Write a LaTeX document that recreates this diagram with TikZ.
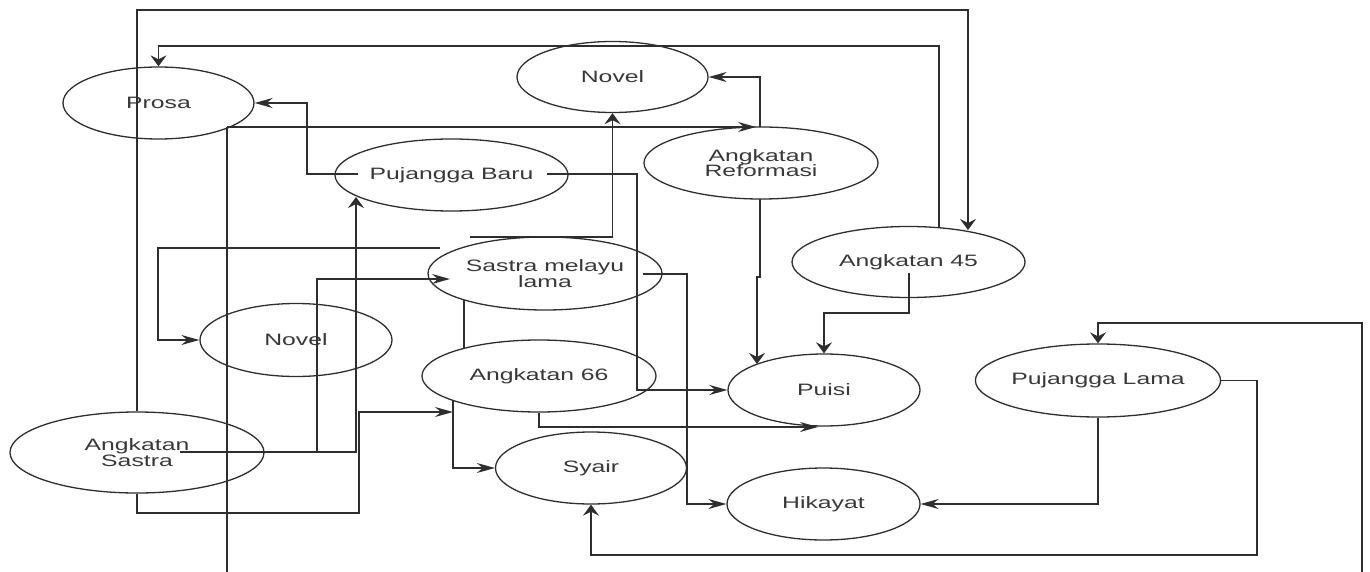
\documentclass[tikz,border=0pt]{standalone}
\usepackage{fontspec}
\setmainfont{Liberation Sans}
\usetikzlibrary{arrows.meta,shapes.geometric}
\definecolor{ln}{HTML}{2E2E2E}
\definecolor{tx}{HTML}{383838}
\newcommand\wl[1]{\scalebox{1.5}[1]{#1}}
\begin{document}
\begin{tikzpicture}[x=1pt,y=-1pt,
  el/.style={ellipse, draw=ln, line width=1.3pt, inner sep=0pt, text=tx,
    font=\fontsize{16.5}{15.5}\selectfont, align=center},
  ed/.style={draw=ln, line width=1.6pt},
  ha/.style={-{Stealth[length=18pt,width=10pt,inset=6pt]}},
  va/.style={-{Stealth[length=11pt,width=16pt,inset=4pt]}}]
\useasboundingbox (0,0) rectangle (1370,572);

\node[el, minimum width=191pt, minimum height=72pt] (prosa) at (158.5,103) {\wl{Prosa}};
\node[el, minimum width=191pt, minimum height=71pt] (novelA) at (612.5,77) {\wl{Novel}};
\node[el, minimum width=233pt, minimum height=72pt] (pbaru) at (451.5,175) {\wl{Pujangga Baru}};
\node[el, minimum width=234pt, minimum height=72pt] (reform) at (761,163) {\wl{Angkatan}\\\wl{Reformasi}};
\node[el, minimum width=233pt, minimum height=71pt] (a45) at (908.5,262) {\wl{Angkatan 45}};
\node[el, minimum width=234pt, minimum height=73pt] (sml) at (545,273.5) {\wl{Sastra melayu}\\\wl{lama}};
\node[el, minimum width=192pt, minimum height=73pt] (novelB) at (296,340) {\wl{Novel}};
\node[el, minimum width=234pt, minimum height=72pt] (a66) at (539,376) {\wl{Angkatan 66}};
\node[el, minimum width=192pt, minimum height=72pt] (puisi) at (824,390) {\wl{Puisi}};
\node[el, minimum width=234pt, minimum height=73pt] (plama) at (1098,380.5) {\wl{Pujangga Lama}};
\node[el, minimum width=254pt, minimum height=81pt] (asastra) at (137,452.5) {\wl{Angkatan}\\\wl{Sastra}};
\node[el, minimum width=191pt, minimum height=72pt] (syair) at (591,468) {\wl{Syair}};
\node[el, minimum width=193pt, minimum height=72pt] (hikayat) at (823.5,504) {\wl{Hikayat}};

\coordinate (asR) at (180,452);
\coordinate (pbL) at (358,174);
\coordinate (pbR) at (547,174);
\coordinate (prB) at (227,127);
\coordinate (smlR) at (643,274);
\coordinate (smlT) at (470,237);
\coordinate (smlL) at (440,248);
\coordinate (botL) at (227,572);
\coordinate (botR) at (1362,572);

\draw[ed,va] (asastra.north) |- (968,10) -- (968,230);
\draw[ed,ha] (asastra.south) -- (137,513) -- (359,513) -- (359,412) -- (453,412);
\draw[ed,ha] (asR) -| (317,279) -- (450,279);
\draw[ed,va] (asR) -| (356,197);
\draw[ed,ha] (pbL) -| (307,103) -- (prosa.east);
\draw[ed,ha] (pbR) -| (637,390) -- (puisi.west);
\draw[ed,ha] (prB) -- (756,127);
\draw[ed] (prB) -- (botL);
\draw[ed,ha] (760,127) |- (novelA.east);
\draw[ed,va] (760,199) -- (760,277) -- (757,277) -- (757,364);
\draw[ed,va] (939,227) |- (158.5,46) -- (prosa.north);
\draw[ed,va] (909,273) |- (824,313) -- (puisi.north);
\draw[ed,va] (smlT) -| (novelA.south);
\draw[ed,ha] (smlL) -| (158,340) -- (novelB.west);
\draw[ed] (464,300) -- (464,348);
\draw[ed,ha] (smlR) -| (687,504) -- (hikayat.west);
\draw[ed,ha] (a66.south) |- (818,427);
\draw[ed,ha] (453,400) |- (syair.west);
\draw[ed,ha] (plama.south) |- (hikayat.east);
\draw[ed,va] (plama.east) -| (1257,555) -| (syair.south);
\draw[ed,va] (botR) |- (1098,323) -- (plama.north);
\end{tikzpicture}
\end{document}
